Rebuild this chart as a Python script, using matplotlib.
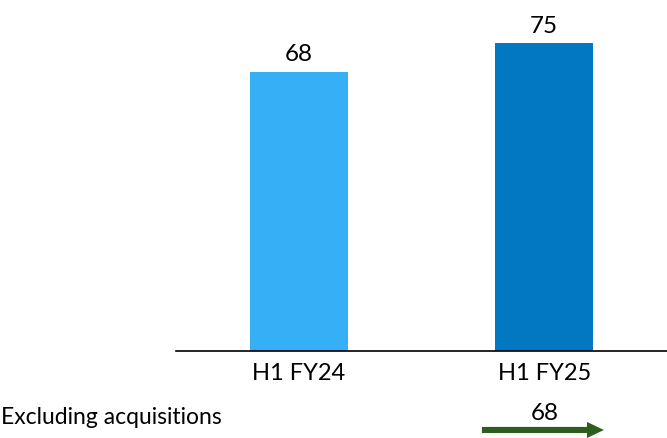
import matplotlib.pyplot as plt

# data
categories = ["H1 FY24", "H1 FY25"]
values = [68, 75]
colors = ["#37AFF6", "#0277C2"]
excl_label = "Excluding acquisitions"
excl_value = 68

plt.rcParams['font.family'] = ['Lato', 'DejaVu Sans']

fig = plt.figure(figsize=(6.67, 4.38), dpi=100)
ax = fig.add_axes([176 / 667, 1 - 351 / 438, 491 / 667, 351 / 438])

x = range(len(categories))
bars = ax.bar(x, values, width=0.40, color=colors)
for b, v in zip(bars, values):
    ax.text(b.get_x() + b.get_width() / 2, v + 1.6, str(v),
            ha="center", va="bottom", fontsize=17.5)

ax.set_xlim(-0.5, 1.5)
ax.set_ylim(0, 85.5)
ax.set_xticks(list(x))
ax.set_xticklabels(categories, fontsize=17)
ax.tick_params(axis="x", length=0, pad=9)
ax.set_yticks([])
for s in ["top", "left", "right"]:
    ax.spines[s].set_visible(False)
ax.spines["bottom"].set_linewidth(1.2)

# excluding acquisitions row
fig.text(1 / 667, 1 - 418 / 438, excl_label, ha="left", va="center", fontsize=16.5)
ax.annotate(str(excl_value), xy=(1, 0), xycoords=("data", "axes fraction"),
            xytext=(0, -62), textcoords="offset pixels",
            ha="center", va="center", fontsize=17.5, annotation_clip=False)
ax.annotate("", xy=(1.243, -0.225), xycoords=("data", "axes fraction"),
            xytext=(0.746, -0.225), textcoords=("data", "axes fraction"),
            arrowprops=dict(arrowstyle="simple,head_length=0.61,head_width=0.58,tail_width=0.22",
                            fc="#2E5E1E", ec="none", lw=0,
                            mutation_scale=20, shrinkA=0, shrinkB=0),
            annotation_clip=False)

fig.savefig("out.png", dpi=100)
